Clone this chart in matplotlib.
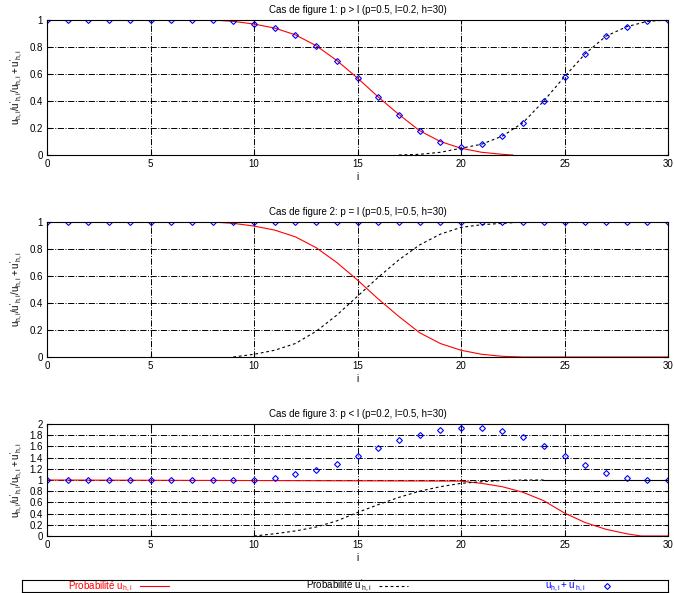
import numpy as np
from matplotlib import pyplot as plt

plt.rcParams['font.family'] = 'Liberation Sans'
plt.rcParams['font.size'] = 7
plt.rcParams['mathtext.fontset'] = 'custom'
plt.rcParams['mathtext.rm'] = 'Liberation Sans'
plt.rcParams['mathtext.it'] = 'Liberation Sans'

i_all = list(range(31))

# panel 1: p > l
red1_x = [0, 8, 9, 10, 11, 12, 13, 14, 15, 16, 17, 18, 19, 20, 21, 22, 22.5]
red1_y = [1, 1, 0.99, 0.97, 0.94, 0.89, 0.81, 0.70, 0.57, 0.43, 0.30, 0.18, 0.10, 0.05, 0.02, 0.005, 0]
blk1_x = [17, 18, 19, 20, 21, 22, 23, 24, 25, 26, 27, 28, 29, 30]
blk1_y = [0, 0.005, 0.02, 0.05, 0.08, 0.14, 0.24, 0.40, 0.58, 0.75, 0.88, 0.95, 0.99, 1]
blue1 = [1, 1, 1, 1, 1, 1, 1, 1, 1, 0.99, 0.97, 0.94, 0.89, 0.81, 0.70, 0.57, 0.43, 0.30,
         0.18, 0.10, 0.06, 0.08, 0.14, 0.24, 0.40, 0.58, 0.75, 0.88, 0.95, 0.99, 1]

# panel 2: p = l
red2_x = [0, 8, 9, 10, 11, 12, 13, 14, 15, 16, 17, 18, 19, 20, 21, 22, 23, 30]
red2_y = [1, 1, 0.99, 0.97, 0.94, 0.89, 0.81, 0.70, 0.57, 0.43, 0.30, 0.18, 0.10, 0.05, 0.02, 0.005, 0, 0]
blk2_x = [9, 10, 11, 12, 13, 14, 15, 16, 17, 18, 19, 20, 21, 22, 23, 30]
blk2_y = [0, 0.02, 0.05, 0.10, 0.19, 0.31, 0.45, 0.59, 0.72, 0.83, 0.91, 0.96, 0.98, 0.99, 1, 1]
blue2 = [1] * 31

# panel 3: p < l
red3_x = [0, 20, 21, 22, 23, 24, 25, 26, 27, 28, 28.7, 30]
red3_y = [1, 0.98, 0.94, 0.88, 0.78, 0.63, 0.41, 0.24, 0.12, 0.04, 0, 0]
blk3_x = [10, 11, 12, 13, 14, 15, 16, 17, 18, 19, 20, 21, 22, 23, 24]
blk3_y = [0, 0.04, 0.09, 0.16, 0.27, 0.42, 0.56, 0.69, 0.80, 0.88, 0.94, 0.97, 0.99, 1, 1]
blue3 = [1, 1, 1, 1, 1, 1, 1, 1, 1, 1, 1, 1.04, 1.10, 1.18, 1.29, 1.42, 1.57, 1.71, 1.81,
         1.89, 1.93, 1.92, 1.87, 1.76, 1.60, 1.42, 1.26, 1.12, 1.04, 1.0, 1]

titles = ['Cas de figure 1: p > l (p=0.5, l=0.2, h=30)',
          'Cas de figure 2: p = l (p=0.5, l=0.5, h=30)',
          'Cas de figure 3: p < l (p=0.2, l=0.5, h=30)']
ylab = r"$\mathregular{u_{h,i}/u'_{h,i}/u_{h,i}+u'_{h,i}}$"

fig = plt.figure(figsize=(6.74, 5.93), dpi=100)
W, H = 674., 593.
boxes = [(20, 155), (222, 357), (424, 536)]
data = [(red1_x, red1_y, blk1_x, blk1_y, blue1),
        (red2_x, red2_y, blk2_x, blk2_y, blue2),
        (red3_x, red3_y, blk3_x, blk3_y, blue3)]

for k, (top, bot) in enumerate(boxes):
    ax = fig.add_axes([47 / W, 1 - bot / H, (668 - 47) / W, (bot - top) / H])
    rx, ry, bx, by, bl = data[k]
    l1, = ax.plot(rx, ry, color='red', lw=0.8)
    l2, = ax.plot(bx, by, color='black', lw=0.8, ls=(0, (2.5, 2.5)))
    l3, = ax.plot(i_all, bl, ls='none', marker='D', ms=3, mfc='none', mec='blue', mew=0.8)
    if k == 2:
        ax.plot([24, 30], [1, 1], color='black', lw=0.8)
        ax.set_ylim(0, 2)
        ax.set_yticks(np.arange(0, 2.01, 0.2))
        ax.set_yticklabels(['0', '0.2', '0.4', '0.6', '0.8', '1', '1.2', '1.4', '1.6', '1.8', '2'])
    else:
        ax.set_ylim(0, 1)
        ax.set_yticks(np.arange(0, 1.01, 0.2))
        ax.set_yticklabels(['0', '0.2', '0.4', '0.6', '0.8', '1'])
    ax.set_xlim(0, 30)
    ax.set_xticks([0, 5, 10, 15, 20, 25, 30])
    ax.grid(True, color='black', ls='-.', lw=0.7)
    ax.tick_params(direction='in', length=3, pad=3, top=True, right=True)
    ax.set_title(titles[k], fontsize=7, pad=5)
    ax.set_xlabel('i', labelpad=2)
    ax.set_ylabel(ylab, labelpad=3)

leg_ax = fig.add_axes([22 / W, 1 - 592 / H, (668 - 22) / W, 12 / H])
leg_ax.set_xticks([])
leg_ax.set_yticks([])
leg = leg_ax.legend([l1, l2, l3],
                    ['Probabilité ' + r"$\mathregular{u_{h,i}}$",
                     'Probabilité ' + r"$\mathregular{u'_{h,i}}$",
                     r"$\mathregular{u_{h,i}+u'_{h,i}}$"],
                    loc='center', ncol=3, frameon=False, markerfirst=False,
                    columnspacing=14, handlelength=3, borderpad=0, fontsize=7)
for txt, c in zip(leg.get_texts(), ['red', 'black', 'blue']):
    txt.set_color(c)

fig.savefig('out.png', dpi=100)
